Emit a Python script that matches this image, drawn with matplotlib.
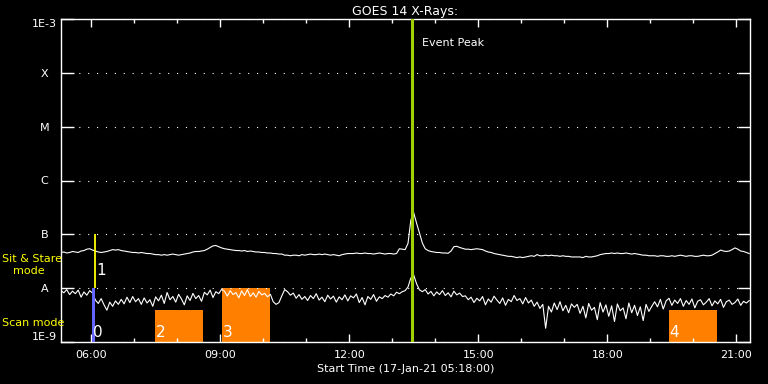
import numpy as np
import pandas as pd
import matplotlib
matplotlib.use('Agg')
import matplotlib.pyplot as plt
import matplotlib.dates as mdates
from matplotlib.ticker import NullLocator

# Datos GOES 14 (muestreo de 4 minutos desde 05:18)
inicio = pd.Timestamp('2021-01-17 05:18')
fin = pd.Timestamp('2021-01-17 21:19')
paso = '4min'

# Canal largo 1-8 A (unidades 1e-8 W/m2)
flujo_largo = [
    4.6, 4.7, 4.5, 4.6, 4.8, 4.7, 4.6, 4.9, 5.0,
    5.3, 5.4, 5.1,
    4.9, 4.7, 4.6, 4.7, 4.8,
    5.0, 5.2, 5.1, 5.2, 5.0, 4.9,
    4.8, 4.7, 4.6, 4.6, 4.5, 4.6, 4.5, 4.4,
    4.4, 4.3, 4.2, 4.2, 4.1, 4.2, 4.1, 4.2, 4.3, 4.2, 4.1, 4.2, 4.3, 4.4,
    4.5, 4.7, 4.8, 4.8, 4.9, 5.0, 5.3,
    5.7, 6.1, 6.2,
    5.9, 5.6, 5.4, 5.3, 5.2,
    5.1, 5.0, 5.0, 4.9, 5.0, 4.8, 4.9, 4.8, 4.7, 4.7, 4.6, 4.6, 4.5,
    4.5, 4.4, 4.4, 4.3, 4.3,
    4.1, 4.1, 4.0, 4.1, 4.1, 4.0, 4.2, 4.1, 4.2, 4.3, 4.2,
    4.2, 4.3, 4.2, 4.3, 4.2, 4.1, 4.2, 4.1, 4.0, 4.2,
    4.3, 4.4, 4.4, 4.4, 4.5, 4.4, 4.4, 4.5, 4.4, 4.4,
    4.3, 4.4, 4.5, 4.4, 4.3, 4.4, 4.4, 4.3, 4.4,
    5.4, 5.3, 5.2,
    6.8, 18.5, 25.0, 16.0, 10.6, 6.9, 5.4, 5.0, 4.8, 4.7,
    4.6, 4.6, 4.5, 4.5, 4.45, 4.9, 5.9, 6.0, 5.7, 5.5,
    5.3, 5.3, 5.2, 5.3, 5.4, 5.3, 5.2, 4.9, 4.7, 4.6,
    4.4, 4.3, 4.2, 4.1, 4.0, 3.9, 3.9, 3.8, 3.7, 3.8,
    3.7, 3.8, 3.9, 4.0, 3.9, 4.2, 4.0, 4.0, 4.1, 4.0,
    4.1, 4.0, 4.0, 3.9, 4.0, 3.9, 3.9, 3.8, 3.8,
    3.8, 3.8, 3.7, 3.9, 3.8, 3.8, 3.9,
    4.0, 4.2, 4.3, 4.4, 4.4, 4.5, 4.4, 4.5, 4.4, 4.4, 4.5, 4.4, 4.3, 4.4, 4.3,
    4.2, 4.1, 4.1, 4.0, 4.0, 4.0, 3.9, 4.0, 4.0, 3.9,
    3.9, 4.0, 3.9, 4.0, 4.1, 4.0, 3.9, 4.0, 4.0, 3.9,
    3.9, 4.0, 4.1, 4.0, 4.0, 4.1,
    4.4, 4.7, 5.1, 4.9, 4.8, 4.9, 5.2, 5.6, 5.3, 4.9, 4.8, 4.6, 4.4,
]

# Canal corto 0.5-4 A (unidades 1e-9 W/m2)
flujo_corto = [
    9.0, 8.2, 9.4, 7.6, 8.8, 7.9, 9.2, 6.8, 8.5, 7.4, 9.0, 8.1,
    6.0, 5.2, 6.4, 4.9, 3.9, 5.5, 4.6, 5.8, 5.0,
    6.2, 5.1, 6.8, 5.4, 7.0, 5.6, 6.4, 5.0, 6.6, 5.3, 6.1,
    4.6, 6.9, 5.8, 7.4, 5.2, 8.3, 6.1, 7.0, 5.5, 7.7,
    6.3, 4.9, 7.2, 5.9, 8.0, 6.4, 7.3, 5.7, 8.4,
    7.5, 9.2, 6.7, 8.6, 7.9, 9.5,
    8.8, 7.1, 9.0, 7.6, 8.3, 6.6, 8.9, 7.3, 9.4, 7.0,
    8.2, 6.8, 8.7, 7.5, 8.0, 6.9, 7.7,
    5.6, 5.0, 5.4, 7.2, 9.4,
    8.6, 7.4, 8.1, 6.5, 7.6, 6.2, 7.0, 5.9, 7.3, 6.4,
    7.9, 6.0, 6.8, 5.6, 7.4, 6.3, 7.1, 5.5, 6.9, 6.1,
    7.5, 5.8, 7.2, 6.6, 7.8, 5.4, 6.7, 4.9, 7.0, 6.2,
    7.6, 5.7, 6.9, 6.4, 7.3, 6.8, 7.8, 7.2, 8.4, 7.9,
    8.6, 9.0,
    10.5, 15.5, 17.5, 12.0, 9.3,
    8.6, 9.4, 7.8, 8.7, 7.2, 8.5, 7.6, 9.0, 7.3, 8.2,
    6.9, 8.8, 7.5, 8.1, 7.0,
    7.2, 6.1, 6.8, 5.4, 6.5, 5.8, 7.0, 4.9, 6.3, 5.5,
    7.1, 6.0, 5.2, 6.6, 4.8, 6.2, 5.6, 7.3, 5.9, 6.4,
    5.1, 6.7, 5.3, 6.0, 4.6,
    5.5, 4.2, 5.0, 1.8, 4.6, 3.6, 5.3, 4.0, 5.6, 3.8,
    4.8, 3.5, 5.1, 4.4,
    5.0, 3.4, 4.6, 2.8, 5.2, 3.9, 4.4, 2.6, 5.4, 3.6,
    4.9, 3.0, 4.7, 2.4, 5.1, 3.8, 4.3, 2.7, 5.3, 3.5,
    4.8, 3.1, 4.5, 2.5, 5.0, 3.7, 4.6,
    5.6, 4.5, 6.2, 4.1, 5.8, 6.5, 4.8, 6.0, 5.2, 6.4,
    4.6, 5.9, 5.0, 6.3, 4.3, 5.7, 6.1, 4.9, 5.5, 6.4,
    4.7, 5.8, 5.1, 6.2, 4.4, 5.6, 6.0, 5.0, 5.4, 6.3,
    4.8, 5.7, 5.3, 5.9,
]

# Niveles de clase GOES
niveles = [1e-9, 1e-8, 1e-7, 1e-6, 1e-5, 1e-4, 1e-3]
etiquetas_niveles = ['1E-9', 'A', 'B', 'C', 'M', 'X', '1E-3']

# Pico del evento
pico = pd.Timestamp('2021-01-17 13:28')

# Observaciones
scan_ini = pd.Timestamp('2021-01-17 06:01')
scan_fin = pd.Timestamp('2021-01-17 06:06')
stare_t = pd.Timestamp('2021-01-17 06:06')
bloques_id = ['2', '3', '4']
bloques_ini = pd.to_datetime(['2021-01-17 07:29', '2021-01-17 09:03', '2021-01-17 19:26'])
bloques_fin = pd.to_datetime(['2021-01-17 08:36', '2021-01-17 10:10', '2021-01-17 20:33'])
bloques_top = [3.9e-9, 1e-8, 3.9e-9]

t_largo = pd.date_range(inicio, periods=len(flujo_largo), freq=paso)
t_corto = pd.date_range(inicio, periods=len(flujo_corto), freq=paso)
largo = np.array(flujo_largo) * 1e-8
corto = np.array(flujo_corto) * 1e-9

fig = plt.figure(figsize=(7.68, 3.84), dpi=100, facecolor='black')
ax = fig.add_axes([61/768, 42/384, 689/768, 323/384])
ax.set_facecolor('black')

ax.set_yscale('log')
ax.set_ylim(1e-9, 1e-3)
ax.set_xlim(inicio, fin)

# Bloques de observacion
for i in range(len(bloques_id)):
    ax.bar(bloques_ini[i], bloques_top[i] - 1e-9, width=bloques_fin[i] - bloques_ini[i],
           bottom=1e-9, align='edge', color='#ff8000', zorder=1)
    ax.annotate(bloques_id[i], xy=(bloques_ini[i], 1.1e-9), xytext=(0.5, 0),
                textcoords='offset points', color='white', fontsize=11,
                ha='left', va='bottom', zorder=5)

ax.bar(scan_ini, 1e-8 - 1e-9, width=scan_fin - scan_ini, bottom=1e-9,
       align='edge', color='#6464ff', zorder=4)
ax.annotate('0', xy=(scan_ini, 1.1e-9), xytext=(1, 0), textcoords='offset points',
            color='white', fontsize=11, ha='left', va='bottom', zorder=5)
ax.vlines(stare_t, 1e-8, 1e-7, color='yellow', lw=1.3, zorder=4)
ax.annotate('1', xy=(stare_t, 1.55e-8), xytext=(1, 0), textcoords='offset points',
            color='white', fontsize=11, ha='left', va='bottom', zorder=5)

# Curvas GOES
ax.plot(t_largo, largo, color='white', lw=0.8, zorder=3)
ax.plot(t_corto, corto, color='white', lw=0.8, zorder=3)

# Pico del evento
ax.axvline(pico, color='#a0d000', lw=2.2, zorder=4)
ax.annotate('Event Peak', xy=(pico, 0.926), xycoords=('data', 'axes fraction'),
            xytext=(7, 0), textcoords='offset points', color='white',
            fontsize=8, ha='left', va='center')

# Ejes
ax.set_yticks(niveles)
ax.set_yticklabels(etiquetas_niveles)
ax.yaxis.set_minor_locator(NullLocator())
ax.yaxis.grid(True, linestyle=(0, (1, 7)), color='white', lw=0.8)
ax.tick_params(axis='y', which='major', direction='in', length=9, width=1,
               color='white', labelcolor='white', labelsize=8, right=True, pad=12)
for lab in ax.get_yticklabels():
    lab.set_ha('center')
ax.get_yticklabels()[0].set_va('bottom')
ax.get_yticklabels()[-1].set_va('top')

ax.xaxis.set_major_locator(mdates.HourLocator(byhour=range(0, 24, 3)))
ax.xaxis.set_minor_locator(mdates.HourLocator())
ax.xaxis.set_major_formatter(mdates.DateFormatter('%H:%M'))
ax.tick_params(axis='x', which='major', direction='in', length=6, width=1,
               color='white', labelcolor='white', labelsize=8, top=True, pad=6)
ax.tick_params(axis='x', which='minor', direction='in', length=3, width=1,
               color='white', top=True)

for s in ax.spines.values():
    s.set_color('white')
    s.set_linewidth(1)

ax.set_xlabel('Start Time (17-Jan-21 05:18:00)', color='white', fontsize=8, labelpad=3)
ax.set_title('GOES 14 X-Rays:', color='white', fontsize=9, pad=3)

# Etiquetas de modo
fig.text(2/768, 1 - 258.5/384, 'Sit & Stare', color='yellow', fontsize=8, ha='left', va='center')
fig.text(13/768, 1 - 271/384, 'mode', color='yellow', fontsize=8, ha='left', va='center')
fig.text(2/768, 1 - 323.5/384, 'Scan mode', color='yellow', fontsize=8, ha='left', va='center')

fig.savefig('out.png', dpi=100, facecolor='black')
